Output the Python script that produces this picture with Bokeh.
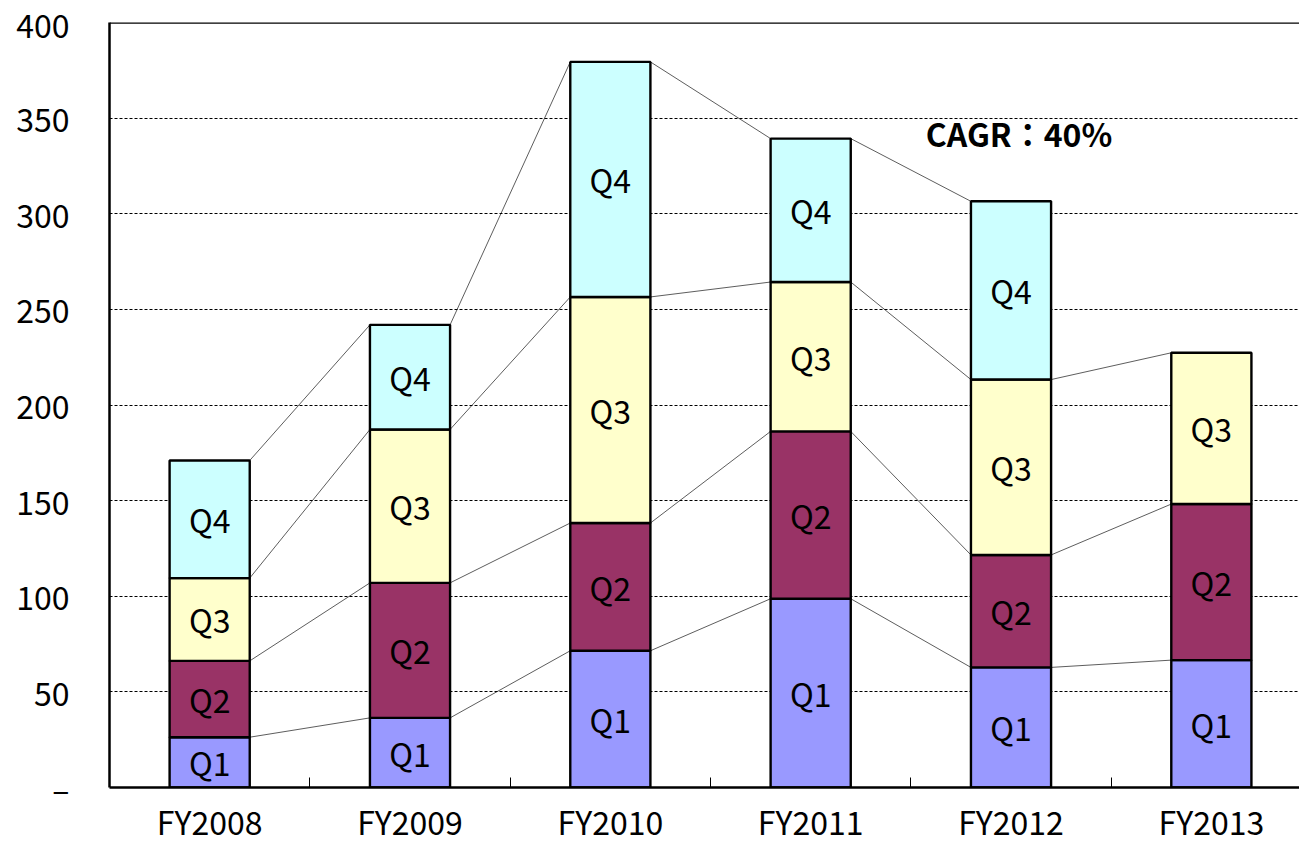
from bokeh.plotting import figure
from bokeh.models import ColumnDataSource, FixedTicker, Span, Range1d
from bokeh.core.properties import value
from bokeh.embed import file_html
from bokeh.resources import INLINE

years = ["FY2008", "FY2009", "FY2010", "FY2011", "FY2012", "FY2013"]
quarters = ["Q1", "Q2", "Q3", "Q4"]
q1 = [26.3, 36.4, 71.5, 98.7, 62.8, 66.6]
q2 = [39.9, 70.6, 66.8, 87.5, 58.8, 81.6]
q3 = [43.3, 80.2, 118.2, 78.1, 91.7, 79.1]
q4 = [61.5, 54.7, 122.9, 75.0, 93.2, None]
colors = ["#9999FF", "#993366", "#FFFFCC", "#CCFFFF"]
y_ticks = [0, 50, 100, 150, 200, 250, 300, 350, 400]
y_labels = ["–", "50", "100", "150", "200", "250", "300", "350", "400"]
note = "CAGR：40%"

FONT = "Noto Sans CJK JP"
xs = list(range(len(years)))
bw = 0.40

p = figure(width=1299, height=846, output_backend="svg", toolbar_location=None,
           x_range=Range1d(-0.5, 5.44), y_range=Range1d(0, 400),
           min_border_left=109, min_border_top=22, min_border_right=0,
           min_border_bottom=0)
p.outline_line_color = None
p.background_fill_color = "white"
p.border_fill_color = "white"

# grid
p.xgrid.grid_line_color = None
p.ygrid.ticker = FixedTicker(ticks=[50, 100, 150, 200, 250, 300, 350])
p.ygrid.grid_line_color = "black"
p.ygrid.grid_line_dash = "3 2"
p.ygrid.grid_line_width = 1

series = [q1, q2, q3, q4]
tops_all = []
bottom = [0.0] * len(years)
for qi, vals in enumerate(series):
    bx, bb, bt, lx, ly = [], [], [], [], []
    tops = []
    for i, v in enumerate(vals):
        if v is None:
            tops.append(None)
            continue
        b = bottom[i]
        t = b + v
        bx.append(xs[i]); bb.append(b); bt.append(t)
        lx.append(xs[i]); ly.append((b + t) / 2)
        tops.append(t)
        bottom[i] = t
    tops_all.append(tops)
    src = ColumnDataSource(dict(x=bx, bottom=bb, top=bt))
    p.vbar(x="x", bottom="bottom", top="top", width=bw, source=src,
           fill_color=colors[qi], line_color="black", line_width=2.4)
    lsrc = ColumnDataSource(dict(x=lx, y=ly, t=[quarters[qi]] * len(lx)))
    p.text(x="x", y="y", text="t", source=lsrc, text_align="center",
           text_baseline="middle", text_font=value(FONT),
           text_font_size="32px", text_color="black")

# connecting lines
sx0, sy0, sx1, sy1 = [], [], [], []
for tops in tops_all:
    for i in range(len(years) - 1):
        if tops[i] is not None and tops[i + 1] is not None:
            sx0.append(xs[i] + bw / 2); sy0.append(tops[i])
            sx1.append(xs[i + 1] - bw / 2); sy1.append(tops[i + 1])
p.segment(x0=sx0, y0=sy0, x1=sx1, y1=sy1, line_color="#333333", line_width=0.8,
          level="underlay")

# annotation
p.text(x=[4.04], y=[342], text=[note], text_align="center", text_baseline="middle",
       text_font=value(FONT), text_font_size="32px", text_font_style="bold",
       text_color="black")

# top border
p.add_layout(Span(location=400, dimension="width", line_color="black", line_width=2.5))

# axes
p.xaxis.ticker = FixedTicker(ticks=xs, minor_ticks=[0.5, 1.5, 2.5, 3.5, 4.5])
p.xaxis.major_label_overrides = {i: y for i, y in enumerate(years)}
p.xaxis.major_tick_in = 0
p.xaxis.major_tick_out = 0
p.xaxis.minor_tick_in = 10
p.xaxis.minor_tick_out = 0
p.xaxis.minor_tick_line_color = "black"
p.xaxis.axis_line_width = 2.5
p.xaxis.axis_line_color = "black"
p.xaxis.major_label_text_font = FONT
p.xaxis.major_label_text_font_size = "32px"
p.xaxis.major_label_text_color = "black"
p.xaxis.major_label_standoff = 10

p.yaxis.ticker = FixedTicker(ticks=y_ticks)
p.yaxis.major_label_overrides = {t: l for t, l in zip(y_ticks, y_labels)}
p.yaxis.major_tick_in = 0
p.yaxis.major_tick_out = 0
p.yaxis.minor_tick_in = 0
p.yaxis.minor_tick_out = 0
p.yaxis.axis_line_width = 2.5
p.yaxis.axis_line_color = "black"
p.yaxis.major_label_text_font = FONT
p.yaxis.major_label_text_font_size = "32px"
p.yaxis.major_label_text_color = "black"
p.yaxis.major_label_standoff = 40

open("out.html", "w").write(file_html(p, INLINE))
